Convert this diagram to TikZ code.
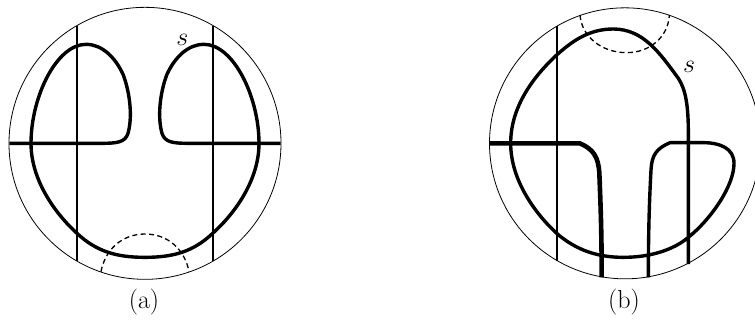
\RequirePackage{fix-cm}
\documentclass[tikz,border=0pt]{standalone}
\tikzset{
  rim/.style={line width=0.8pt},
  thread/.style={line width=2pt},
  curvethick/.style={line width=3.4pt,line join=round},
  curveheavy/.style={line width=4.6pt,line join=round},
  dash arc/.style={line width=1.3pt,dash pattern=on 5pt off 3.4pt},
  lab/.style={font=\fontsize{26}{30}\selectfont,inner sep=0pt},
  sm/.style={smooth,tension=1}
}
\begin{document}
\begin{tikzpicture}[x=0.33333pt,y=-0.33333pt]
\useasboundingbox (0,0) rectangle (2265,960);
% (a)
\draw[rim] (435,430) circle[radius=136pt];
\draw[thread] (231,77) -- (231,782);
\draw[thread] (638,77) -- (638,782);
\draw[curvethick] (28,430) -- (300,430)
  .. controls (350,430) and (375,428) .. (384,400)
  .. controls (398,350) and (390,280) .. (370,225)
  .. controls (345,170) and (305,133) .. (258,133)
  .. controls (170,133) and (93,290) .. (93,430)
  .. controls (93,540) and (165,640) .. (231,700)
  .. controls (290,755) and (350,772) .. (435,772)
  .. controls (520,772) and (580,755) .. (638,700)
  .. controls (705,640) and (777,540) .. (777,430)
  .. controls (777,290) and (700,133) .. (612,133)
  .. controls (565,133) and (525,170) .. (500,225)
  .. controls (480,280) and (472,350) .. (486,400)
  .. controls (495,428) and (520,430) .. (570,430)
  -- (842,430);
\draw[dash arc] (303,815) .. controls (315,750) and (365,702) .. (435,702)
  .. controls (505,702) and (555,750) .. (567,815);
\node[lab] at (547,121) {$s$};
\node[lab] at (432,905) {(a)};
% (b)
\begin{scope}[xshift=470pt]
\draw[rim] (465,430) circle[radius=135.5pt];
\draw[thread] (260,77) -- (260,782);
\draw[curvethick] (655,792) -- (655,400)
  .. controls (655,320) and (648,270) .. (625,235)
  .. controls (570,160) and (520,87) .. (430,87)
  .. controls (360,87) and (310,120) .. (260,165)
  .. controls (190,230) and (122,320) .. (122,430)
  .. controls (122,540) and (195,640) .. (260,700)
  .. controls (320,752) and (385,772) .. (460,772)
  .. controls (540,772) and (610,750) .. (655,712)
  .. controls (720,660) and (792,560) .. (792,490)
  .. controls (792,445) and (750,428) .. (700,428)
  -- (600,428)
  .. controls (560,445) and (545,465) .. (543,510)
  .. controls (538,600) and (535,700) .. (535,832);
\draw[curveheavy] (58,430) -- (330,430)
  .. controls (370,448) and (385,470) .. (388,520)
  .. controls (392,620) and (395,700) .. (395,832);
\draw[dash arc] (330,45) .. controls (335,110) and (395,158) .. (470,158)
  .. controls (540,158) and (595,110) .. (598,45);
\node[lab] at (657,201) {$s$};
\node[lab] at (462,905) {(b)};
\end{scope}
\end{tikzpicture}
\end{document}
